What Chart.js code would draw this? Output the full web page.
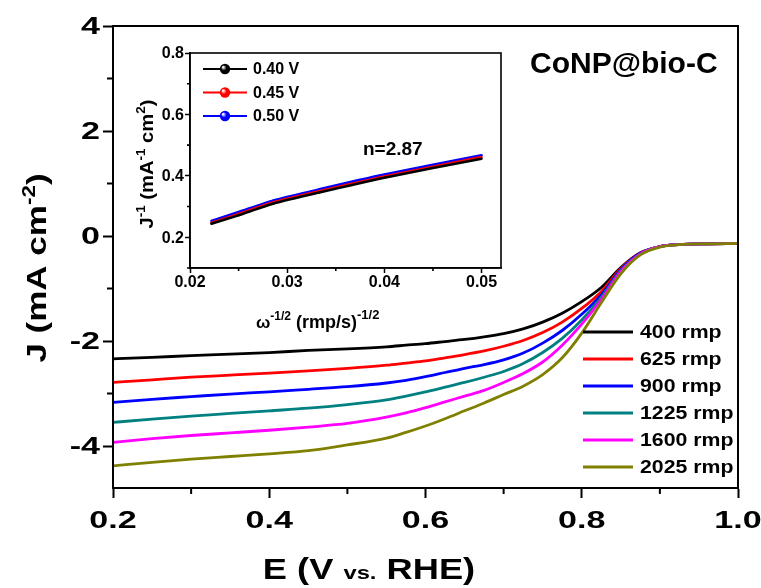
<!DOCTYPE html>
<html><head><meta charset="utf-8">
<script src="https://cdn.jsdelivr.net/npm/chart.js@4.4.1/dist/chart.umd.min.js"></script>
<style>
html,body{margin:0;padding:0;background:#fff;}
#wrap{position:relative;width:761px;height:588px;overflow:hidden;}
#main{position:absolute;left:0;top:0;}
#inset{position:absolute;left:120px;top:30px;}
</style></head>
<body><div id="wrap">
<canvas id="main" width="761" height="588"></canvas>
<canvas id="inset" width="400" height="310"></canvas>
</div>
<script>
// ---------- main LSV data ----------
const E_V = [0.2,0.25,0.3,0.35,0.4,0.45,0.5,0.55,0.575,0.6,0.625,0.65,0.675,0.7,0.725,0.75,0.775,0.8,0.825,0.85,0.875,0.9,0.93,0.96,1.0];
const J_400rmp  = [-2.34,-2.31,-2.28,-2.25,-2.22,-2.18,-2.15,-2.11,-2.08,-2.05,-2.01,-1.97,-1.92,-1.86,-1.77,-1.64,-1.47,-1.25,-0.98,-0.60,-0.32,-0.20,-0.16,-0.15,-0.14];
const J_625rmp  = [-2.79,-2.74,-2.69,-2.65,-2.61,-2.57,-2.52,-2.46,-2.42,-2.38,-2.32,-2.26,-2.19,-2.10,-1.99,-1.84,-1.64,-1.38,-1.06,-0.62,-0.33,-0.20,-0.16,-0.15,-0.14];
const J_900rmp  = [-3.17,-3.11,-3.06,-3.01,-2.97,-2.92,-2.87,-2.80,-2.75,-2.68,-2.60,-2.52,-2.45,-2.36,-2.23,-2.04,-1.80,-1.49,-1.12,-0.64,-0.33,-0.20,-0.16,-0.15,-0.14];
const J_1225rmp = [-3.55,-3.49,-3.43,-3.38,-3.33,-3.28,-3.21,-3.12,-3.05,-2.97,-2.88,-2.79,-2.69,-2.58,-2.43,-2.22,-1.95,-1.60,-1.17,-0.66,-0.34,-0.20,-0.16,-0.15,-0.14];
const J_1600rmp = [-3.93,-3.86,-3.80,-3.75,-3.70,-3.64,-3.57,-3.45,-3.37,-3.27,-3.16,-3.05,-2.94,-2.79,-2.62,-2.40,-2.08,-1.68,-1.21,-0.68,-0.34,-0.20,-0.16,-0.15,-0.14];
const J_2025rmp = [-4.38,-4.31,-4.25,-4.20,-4.15,-4.09,-3.98,-3.85,-3.74,-3.62,-3.48,-3.33,-3.18,-3.02,-2.86,-2.64,-2.32,-1.85,-1.27,-0.72,-0.36,-0.21,-0.16,-0.15,-0.14];
const seriesLabels = ['400 rmp','625 rmp','900 rmp','1225 rmp','1600 rmp','2025 rmp'];
const seriesColors = ['#000000','#ff0000','#0000ff','#008080','#ff00ff','#808000'];
const xTickValues = [0.2,0.4,0.6,0.8,1.0];
const yTickValues = [-4,-2,0,2,4];
const sampleLabel = 'CoNP@bio-C';

// ---------- inset K-L data ----------
const KL_x = [0.0222,0.025,0.0286,0.0333,0.04,0.05];
const KL_040V = [0.244,0.272,0.310,0.346,0.394,0.456];
const KL_045V = [0.247,0.276,0.314,0.350,0.398,0.461];
const KL_050V = [0.253,0.282,0.320,0.356,0.404,0.467];
const KL_labels = ['0.40 V','0.45 V','0.50 V'];
const KL_colors = ['#000000','#ff0000','#0000ff'];
const KL_xTicks = [0.02,0.03,0.04,0.05];
const KL_yTicks = [0.2,0.4,0.6,0.8];
const KL_note = 'n=2.87';

const FONT = '"Liberation Sans", Arial, Helvetica, sans-serif';

function txt(ctx, t, x, y, size, align, baseline, sx, rot){
  ctx.save();
  ctx.translate(x,y);
  if(rot) ctx.rotate(rot);
  ctx.scale(sx||1,1);
  ctx.font = 'bold '+size+'px '+FONT;
  ctx.textAlign = align; ctx.textBaseline = baseline; ctx.fillStyle='#000';
  ctx.fillText(t,0,0);
  ctx.restore();
}
function rich(ctx, segs, x, y, rot, sx, align){
  ctx.save();
  ctx.translate(x,y);
  if(rot) ctx.rotate(rot);
  ctx.scale(sx||1,1);
  let w=0;
  segs.forEach(s=>{ctx.font=(s.wt||'bold')+' '+s.size+'px '+FONT; s._w=ctx.measureText(s.t).width; w+=s._w;});
  let cx = align==='left'?0:-w/2;
  ctx.textAlign='left'; ctx.textBaseline='alphabetic'; ctx.fillStyle='#000';
  segs.forEach(s=>{ctx.font=(s.wt||'bold')+' '+s.size+'px '+FONT; ctx.fillText(s.t,cx,-(s.rise||0)); cx+=s._w;});
  ctx.restore();
}
function mids(arr){const m=[];for(let i=0;i<arr.length-1;i++)m.push((arr[i]+arr[i+1])/2);return m;}

// ---------- main chart ----------
const mainSeries = [J_400rmp,J_625rmp,J_900rmp,J_1225rmp,J_1600rmp,J_2025rmp];
const mainDecor = {
  id:'mainDecor',
  afterDraw(chart){
    const ctx=chart.ctx, a=chart.chartArea, xs=chart.scales.x, ys=chart.scales.y;
    ctx.save();
    ctx.strokeStyle='#000'; ctx.lineWidth=2;
    ctx.strokeRect(a.left,a.top,a.right-a.left,a.bottom-a.top);
    ctx.beginPath();
    mids(xTickValues).forEach(v=>{const p=xs.getPixelForValue(v);ctx.moveTo(p,a.bottom);ctx.lineTo(p,a.bottom+6);});
    mids(yTickValues).forEach(v=>{const p=ys.getPixelForValue(v);ctx.moveTo(a.left,p);ctx.lineTo(a.left-6,p);});
    ctx.stroke();
    ctx.restore();
    xTickValues.forEach(v=>txt(ctx,v.toFixed(1),xs.getPixelForValue(v),521,24,'center','middle',1.42));
    yTickValues.forEach(v=>txt(ctx,String(v),100,ys.getPixelForValue(v)+1,24,'right','middle',1.42));
    rich(ctx,[{t:'E (V ',size:29},{t:'vs.',size:19},{t:' RHE)',size:29}],369,579,0,1.25,'center');
    rich(ctx,[{t:'J (mA cm',size:28},{t:'-2',size:18,rise:11},{t:')',size:28}],46,268,-Math.PI/2,1.25,'center');
    txt(ctx,sampleLabel,530,73,30,'left','alphabetic',1);
    ctx.save();
    seriesLabels.forEach((lab,i)=>{
      const y=332+i*27;
      ctx.strokeStyle=seriesColors[i]; ctx.lineWidth=3;
      ctx.beginPath(); ctx.moveTo(583,y); ctx.lineTo(633,y); ctx.stroke();
      txt(ctx,lab,640,y+1,19,'left','middle',1.12);
    });
    ctx.restore();
  }
};
new Chart(document.getElementById('main'),{
  type:'line',
  data:{datasets:mainSeries.map((arr,i)=>({
    label:seriesLabels[i],
    data:E_V.map((e,k)=>({x:e,y:arr[k]})),
    borderColor:seriesColors[i],backgroundColor:seriesColors[i],
    borderWidth:2.8,pointRadius:0,cubicInterpolationMode:'monotone',fill:false
  })).reverse()},
  options:{
    responsive:false,animation:false,devicePixelRatio:1,
    layout:{padding:{top:26,right:23,left:0,bottom:0}},
    plugins:{legend:{display:false},tooltip:{enabled:false}},
    scales:{
      x:{type:'linear',min:0.2,max:1.0,
         afterBuildTicks:s=>{s.ticks=xTickValues.map(v=>({value:v}));},
         afterFit:s=>{s.height=100;},
         ticks:{display:false},
         grid:{drawOnChartArea:false,drawTicks:true,tickLength:10,tickWidth:2,tickColor:'#000',color:'#000'},
         border:{display:true,color:'#000',width:2}},
      y:{type:'linear',min:-4.8,max:4,
         afterBuildTicks:s=>{s.ticks=yTickValues.map(v=>({value:v}));},
         afterFit:s=>{s.width=113;},
         ticks:{display:false},
         grid:{drawOnChartArea:false,drawTicks:true,tickLength:10,tickWidth:2,tickColor:'#000',color:'#000'},
         border:{display:true,color:'#000',width:2}}
    }
  },
  plugins:[mainDecor]
});

// ---------- inset chart ----------
const KL_series=[KL_040V,KL_045V,KL_050V];
const insetDecor={
  id:'insetDecor',
  afterDraw(chart){
    const ctx=chart.ctx,a=chart.chartArea,xs=chart.scales.x,ys=chart.scales.y;
    ctx.save();
    ctx.strokeStyle='#000';ctx.lineWidth=1.6;
    ctx.strokeRect(a.left,a.top,a.right-a.left,a.bottom-a.top);
    ctx.beginPath();
    mids(KL_xTicks).forEach(v=>{const p=xs.getPixelForValue(v);ctx.moveTo(p,a.bottom);ctx.lineTo(p,a.bottom+3);});
    mids(KL_yTicks).concat([0.1]).forEach(v=>{const p=ys.getPixelForValue(v);ctx.moveTo(a.left,p);ctx.lineTo(a.left-3,p);});
    ctx.stroke();
    ctx.restore();
    KL_xTicks.forEach(v=>txt(ctx,v.toFixed(2),xs.getPixelForValue(v),253,16,'center','middle',1));
    KL_yTicks.forEach(v=>txt(ctx,v.toFixed(1),64,ys.getPixelForValue(v)+1,16,'right','middle',1));
    rich(ctx,[{t:'\u03c9',size:17},{t:'-1/2',size:12,rise:8},{t:' (rmp/s)',size:18},{t:'-1/2',size:13,rise:9}],136,298,0,1,'left');
    rich(ctx,[{t:'J',size:18},{t:'-1',size:12,rise:8},{t:' (mA',size:18},{t:'-1',size:12,rise:8},{t:' cm',size:18},{t:'2',size:12,rise:8},{t:')',size:18}],33,134,-Math.PI/2,1.12,'center');
    ctx.save();
    KL_labels.forEach((lab,i)=>{
      const y=39+i*23.5;
      ctx.strokeStyle=KL_colors[i];ctx.lineWidth=2.2;
      ctx.beginPath();ctx.moveTo(83,y);ctx.lineTo(127,y);ctx.stroke();
      const g=ctx.createRadialGradient(103,y-2,0.5,105,y,5.5);
      g.addColorStop(0,'#ffffff');g.addColorStop(0.45,KL_colors[i]);g.addColorStop(1,KL_colors[i]);
      ctx.fillStyle=g;ctx.beginPath();ctx.arc(105,y,5.2,0,Math.PI*2);ctx.fill();
      txt(ctx,lab,133,y+1,16,'left','middle',1);
    });
    ctx.restore();
    txt(ctx,KL_note,243,125,19,'left','alphabetic',1);
  }
};
new Chart(document.getElementById('inset'),{
  type:'line',
  data:{datasets:KL_series.map((arr,i)=>({
    label:KL_labels[i],
    data:KL_x.map((x,k)=>({x:x,y:arr[k]})),
    borderColor:KL_colors[i],backgroundColor:KL_colors[i],
    borderWidth:2.6,pointRadius:1.2,pointBorderWidth:0,tension:0.2,fill:false
  }))},
  options:{
    responsive:false,animation:false,devicePixelRatio:1,
    layout:{padding:{top:23,right:19,left:0,bottom:0}},
    plugins:{legend:{display:false},tooltip:{enabled:false}},
    scales:{
      x:{type:'linear',min:0.02,max:0.052,
         afterBuildTicks:s=>{s.ticks=KL_xTicks.map(v=>({value:v}));},
         afterFit:s=>{s.height=72;},
         ticks:{display:false},
         grid:{drawOnChartArea:false,tickLength:5,tickWidth:1.5,tickColor:'#000'},
         border:{display:true,color:'#000',width:1.6}},
      y:{type:'linear',min:0.1,max:0.8,
         afterBuildTicks:s=>{s.ticks=KL_yTicks.map(v=>({value:v}));},
         afterFit:s=>{s.width=70;},
         ticks:{display:false},
         grid:{drawOnChartArea:false,tickLength:5,tickWidth:1.5,tickColor:'#000'},
         border:{display:true,color:'#000',width:1.6}}
    }
  },
  plugins:[insetDecor]
});
</script>
</body></html>
